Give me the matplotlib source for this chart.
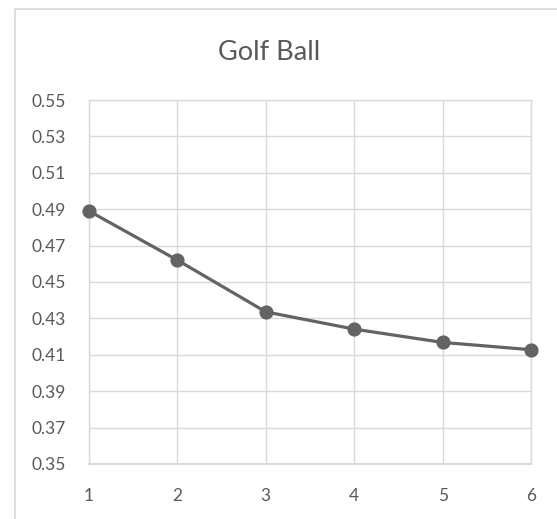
import matplotlib
matplotlib.use("Agg")
import matplotlib.pyplot as plt
from matplotlib.patches import Rectangle

# Data
trials = [1, 2, 3, 4, 5, 6]
values = [0.489, 0.462, 0.4336, 0.4241, 0.4168, 0.4128]
y_ticks = [0.35, 0.37, 0.39, 0.41, 0.43, 0.45, 0.47, 0.49, 0.51, 0.53, 0.55]
title = "Golf Ball"

plt.rcParams['font.family'] = ['Lato', 'DejaVu Sans']

W, H = 557, 519
fig = plt.figure(figsize=(W / 100, H / 100), dpi=100)

# Chart-area border (runs off the right and bottom edges)
fig.patches.append(Rectangle((15 / W, -0.1), 1, 1.1 - 9 / H, transform=fig.transFigure,
                             fill=False, edgecolor="#d9d9d9", linewidth=1.2))

left, right, top, bottom = 89, 531, 100, 464
ax = fig.add_axes([left / W, (H - bottom) / H, (right - left) / W, (bottom - top) / H])

ax.plot(trials, values, color="#636363", linewidth=2.3, marker="o",
        markersize=9.2, markerfacecolor="#636363", markeredgecolor="#636363",
        solid_capstyle="round", zorder=3, clip_on=False)

ax.set_xlim(1, 6)
ax.set_ylim(0.35, 0.55)
ax.set_xticks(trials)
ax.set_yticks(y_ticks)
ax.set_yticklabels([f"{v:.2f}" for v in y_ticks])
ax.grid(True, color="#d9d9d9", linewidth=1.0)
ax.set_axisbelow(True)
for s in ax.spines.values():
    s.set_color("#d9d9d9")
    s.set_linewidth(1.0)
ax.spines['bottom'].set_linewidth(1.3)
ax.tick_params(axis="both", length=0, colors="#595959", labelsize=12.5)
ax.tick_params(axis="y", pad=17)
ax.tick_params(axis="x", pad=17)

fig.text(269 / W, 1 - 53 / H, title, ha="center", va="center",
         fontsize=19.5, color="#595959")

fig.savefig("out.png", dpi=100)
